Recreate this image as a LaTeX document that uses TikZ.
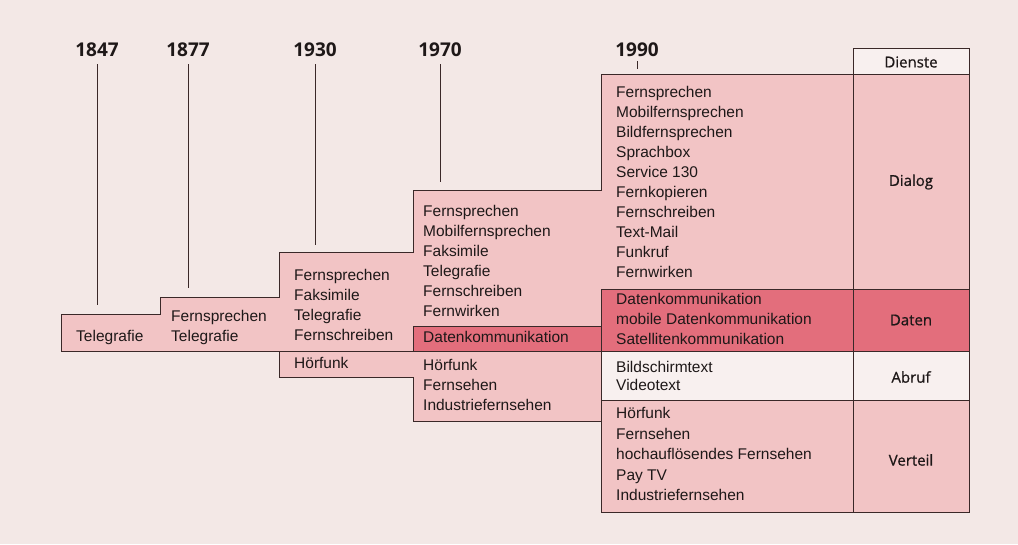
\documentclass[tikz,border=0pt]{standalone}
\usepackage{fontspec}
\setmainfont{Liberation Sans}
\newfontfamily\headfont{Open Sans}
\newfontfamily\dienstfont{Open Sans}[UprightFeatures={FakeBold=0.8}]
\definecolor{paper}{HTML}{F3E8E6}
\definecolor{blockpink}{HTML}{F2C4C5}
\definecolor{datenred}{HTML}{E36E7C}
\definecolor{abrufwhite}{HTML}{F8F0EF}
\definecolor{rulec}{HTML}{3A2828}
\definecolor{ink}{HTML}{1E1818}
\tikzset{
    year/.style = {anchor=base, inner sep=0pt, text=ink, font=\headfont\bfseries\fontsize{19}{19}\selectfont},
    yearline/.style = {draw=rulec, line width=0.8pt, shorten <=8pt},
    item/.style = {anchor=north west, inner sep=0pt, align=left, text=ink, font=\fontsize{15.5}{20}\selectfont},
    itemwide/.style = {item, font=\fontsize{15.5}{20.6}\selectfont},
    itemtight/.style = {item, font=\fontsize{15.5}{18.5}\selectfont},
    dienst/.style = {inner sep=0pt, text=ink, font=\dienstfont\fontsize{15}{15}\selectfont},
    border/.style = {draw=rulec, line width=1pt},
}
\begin{document}
\begin{tikzpicture}[x=1pt, y=-1pt]
    \useasboundingbox[fill=paper] (0,0) rectangle (1018,544);

    % fills
    \fill[blockpink] (61,351) -- (61,314) -- (160,314) -- (160,297) -- (279,297) -- (279,252)
        -- (413,252) -- (413,190) -- (601,190) -- (601,74) -- (969,74) -- (969,351) -- cycle;
    \fill[blockpink] (279,351) -- (279,377) -- (413,377) -- (413,421) -- (601,421)
        -- (601,512) -- (969,512) -- (969,351) -- cycle;
    \fill[datenred] (413,351) -- (413,326) -- (601,326) -- (601,289) -- (969,289) -- (969,351) -- cycle;
    \fill[abrufwhite] (601,351) rectangle (969,400);
    \fill[abrufwhite] (853,48) rectangle (969,74);

    % outlines
    \draw[border] (61,351) -- (61,314) -- (160,314) -- (160,297) -- (279,297) -- (279,252)
        -- (413,252) -- (413,190) -- (601,190) -- (601,74) -- (853,74);
    \draw[border] (853,48) rectangle (969,512);
    \draw[border] (853,74) -- (969,74);
    \draw[border] (61,351) -- (969,351);
    \draw[border] (279,351) -- (279,377) -- (413,377) -- (413,421) -- (601,421);
    \draw[border] (413,351) -- (413,326) -- (601,326);
    \draw[border] (601,289) -- (969,289);
    \draw[border] (601,400) -- (969,400);
    \draw[border] (601,289) -- (601,512) -- (853,512);

    % years
    \node[year] (y1847) at (97,56) {1847};
    \node[year] (y1877) at (188,56) {1877};
    \node[year] (y1930) at (315,56) {1930};
    \node[year] (y1970) at (440,56) {1970};
    \node[year] (y1990) at (637,56) {1990};
    \coordinate (t1847) at (97,305);
    \coordinate (t1877) at (188,288);
    \coordinate (t1930) at (315,245);
    \coordinate (t1970) at (440,182);
    \coordinate (t1990) at (637,69);
    \draw[yearline] (y1847) -- (t1847);
    \draw[yearline] (y1877) -- (t1877);
    \draw[yearline] (y1930) -- (t1930);
    \draw[yearline] (y1970) -- (t1970);
    \draw[yearline, shorten <=5pt] (y1990) -- (t1990);

    % 1847 / 1877
    \node[item] (n1847) at (76,330.5) {Telegrafie};
    \node[item] (n1877) at (171,310) {Fernsprechen\\Telegrafie};

    % 1930
    \node[item] (n1930) at (294,269) {Fernsprechen\\Faksimile\\Telegrafie\\Fernschreiben};
    \node[item] (v1930) at (294,357) {Hörfunk};

    % 1970
    \node[item] (n1970) at (423,205) {Fernsprechen\\Mobilfernsprechen\\Faksimile\\Telegrafie\\Fernschreiben\\Fernwirken};
    \node[item] (d1970) at (423,331) {Datenkommunikation};
    \node[item] (v1970) at (423,359) {Hörfunk\\Fernsehen\\Industriefernsehen};

    % 1990
    \node[item] (n1990) at (616,86) {Fernsprechen\\Mobilfernsprechen\\Bildfernsprechen\\Sprachbox\\Service 130\\Fernkopieren\\Fernschreiben\\Text-Mail\\Funkruf\\Fernwirken};
    \node[item] (d1990) at (616,293) {Datenkommunikation\\mobile Datenkommunikation\\Satellitenkommunikation};
    \node[itemtight] (a1990) at (616,361) {Bildschirmtext\\Videotext};
    \node[itemwide] (v1990) at (616,407) {Hörfunk\\Fernsehen\\hochauflösendes Fernsehen\\Pay TV\\Industriefernsehen};

    % Dienste
    \node[dienst] (dienste) at (911,62) {Dienste};
    \node[dienst] (dialog) at (911,182) {Dialog};
    \node[dienst] (daten) at (911,320) {Daten};
    \node[dienst] (abruf) at (911,377) {Abruf};
    \node[dienst] (verteil) at (911,460) {Verteil};
\end{tikzpicture}
\end{document}
